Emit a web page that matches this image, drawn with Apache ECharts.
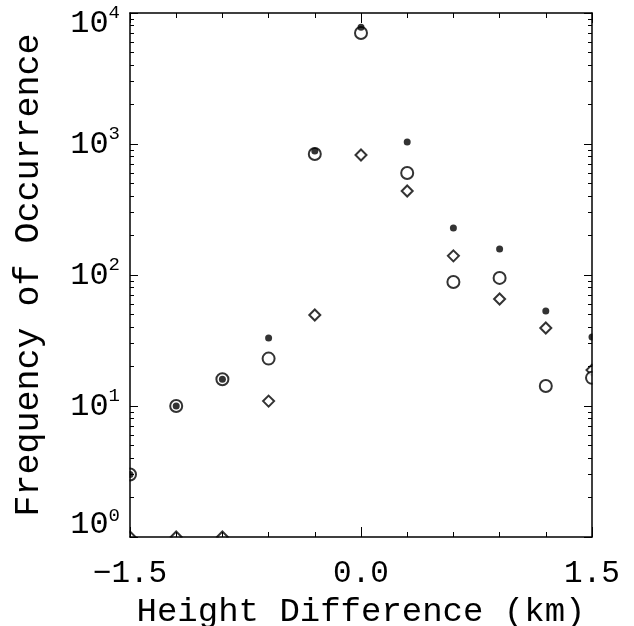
<!DOCTYPE html>
<html>
<head>
<meta charset="utf-8">
<script src="https://cdn.jsdelivr.net/npm/echarts@6/dist/echarts.min.js"></script>
<style>
  html, body { margin: 0; padding: 0; background: #fff; }
  #chart { width: 634px; height: 626px; }
</style>
</head>
<body>
<div id="chart"></div>
<script>
// height difference bins (km)
var heightDiff = [-1.5, -1.2, -0.9, -0.6, -0.3, 0.0, 0.3, 0.6, 0.9, 1.2, 1.5]
// filled dots
var filledDots = [3, 10, 16, 33, 885, 7800, 1035, 228, 158, 53, 33.6]
// open circles
var openCircles = [3, 10, 16, 23, 839, 7030, 601, 88.5, 95, 14.2, 16.4]
// open diamonds
var openDiamonds = [1, 1, 1, 10.9, 49.5, 824, 438, 140, 65.6, 39.4, 18.8]

var xTickLabels = ['\u22121.5', '0.0', '1.5']

function pairs (ys) {
  return heightDiff.map(function (x, i) { return [x, ys[i]] })
}

// minor log ticks (2..9 within every decade), in log10 units for the overlay axis
var minorLogTicks = []
for (var k = 0; k < 4; k++) {
  for (var m = 2; m < 10; m++) minorLogTicks.push(k + Math.log10(m))
}

var font = 'Liberation Mono'
var G = { left: 130, right: 42, top: 13, bottom: 89, outerBoundsMode: 'none', containLabel: false }

var myChart = echarts.init(document.getElementById('chart'))

var xCommon = {
  type: 'value',
  min: -1.5,
  max: 1.5,
  interval: 1.5,
  z: 10,
  axisLine: { show: true, onZero: false, lineStyle: { color: '#000', width: 1.5 } },
  axisTick: { show: true, inside: true, length: 10, lineStyle: { color: '#000', width: 1 } },
  minorTick: { show: true, splitNumber: 5, length: 5, lineStyle: { color: '#000', width: 1 } },
  splitLine: { show: false },
  minorSplitLine: { show: false }
}

var yLogCommon = {
  type: 'log',
  logBase: 10,
  min: 1,
  max: 10000,
  z: 10,
  axisLine: { show: true, onZero: false, lineStyle: { color: '#000', width: 1.5 } },
  axisTick: { show: true, inside: true, length: 8, lineStyle: { color: '#000', width: 1 } },
  splitLine: { show: false }
}

var yMinorCommon = {
  type: 'value',
  min: 0,
  max: 4,
  z: 10,
  axisLine: { show: false, onZero: false },
  axisLabel: { show: false },
  axisTick: { show: true, inside: true, length: 4, customValues: minorLogTicks, lineStyle: { color: '#000', width: 1 } },
  splitLine: { show: false }
}

var option = {
  backgroundColor: '#fff',
  animation: false,
  grid: G,
  graphic: [
    // masks so marks on the frame are clipped to the plot area
    { type: 'rect', z: 5, shape: { x: 0, y: 0, width: G.left - 0.5, height: 626 }, style: { fill: '#fff' } },
    { type: 'rect', z: 5, shape: { x: 634 - G.right + 0.5, y: 0, width: G.right, height: 626 }, style: { fill: '#fff' } },
    { type: 'rect', z: 5, shape: { x: 0, y: 626 - G.bottom + 0.5, width: 634, height: G.bottom }, style: { fill: '#fff' } },
    { type: 'rect', z: 5, shape: { x: 0, y: 0, width: 634, height: G.top - 0.5 }, style: { fill: '#fff' } }
  ],
  xAxis: [
    Object.assign({}, xCommon, {
      position: 'bottom',
      name: 'Height Difference (km)',
      nameLocation: 'middle',
      nameGap: 58,
      nameTextStyle: { fontFamily: font, fontSize: 34, color: '#000' },
      axisLabel: {
        margin: 21,
        fontFamily: font,
        fontSize: 31,
        color: '#000',
        formatter: function (v) {
          var i = [-1.5, 0, 1.5].indexOf(Math.round(v * 10) / 10)
          return i >= 0 ? xTickLabels[i] : ''
        }
      }
    }),
    Object.assign({}, xCommon, { position: 'top', axisLabel: { show: false } })
  ],
  yAxis: [
    Object.assign({}, yLogCommon, {
      position: 'left',
      name: 'Frequency of Occurrence',
      nameLocation: 'middle',
      nameGap: 84,
      nameTextStyle: { fontFamily: font, fontSize: 35, color: '#000' },
      axisLabel: {
        margin: 10,
        fontFamily: font,
        color: '#000',
        formatter: function (v) {
          var e = Math.round(Math.log10(v))
          if (e === 4) return '{bt|10}{st|' + e + '}'
          if (e === 0) return '{bb|10}{sb|' + e + '}'
          return '{b|10}{s|' + e + '}'
        },
        rich: {
          b: { fontFamily: font, fontSize: 32, lineHeight: 30, verticalAlign: 'bottom', padding: [0, 0, -2, 0], color: '#000' },
          s: { fontFamily: font, fontSize: 19, lineHeight: 19, verticalAlign: 'bottom', padding: [0, 0, 16, 0], color: '#000' },
          bt: { fontFamily: font, fontSize: 32, lineHeight: 30, verticalAlign: 'top', padding: [10, 0, 0, 0], color: '#000' },
          st: { fontFamily: font, fontSize: 19, lineHeight: 19, verticalAlign: 'top', padding: [5, 0, 0, 0], color: '#000' },
          bb: { fontFamily: font, fontSize: 32, lineHeight: 30, verticalAlign: 'bottom', padding: [0, 0, 11, 0], color: '#000' },
          sb: { fontFamily: font, fontSize: 19, lineHeight: 19, verticalAlign: 'bottom', padding: [0, 0, 27, 0], color: '#000' }
        }
      }
    }),
    Object.assign({}, yLogCommon, { position: 'right', axisLabel: { show: false } }),
    Object.assign({}, yMinorCommon, { position: 'left' }),
    Object.assign({}, yMinorCommon, { position: 'right' })
  ],
  series: [
    {
      type: 'scatter',
      name: 'diamonds',
      clip: false,
      symbol: 'emptyDiamond',
      symbolSize: [11, 11],
      itemStyle: { color: '#000', borderWidth: 1.2 },
      data: pairs(openDiamonds)
    },
    {
      type: 'scatter',
      name: 'circles',
      clip: false,
      symbol: 'emptyCircle',
      symbolSize: 12,
      itemStyle: { color: '#000', borderWidth: 1.2 },
      data: pairs(openCircles)
    },
    {
      type: 'scatter',
      name: 'dots',
      clip: false,
      symbol: 'circle',
      symbolSize: 7,
      itemStyle: { color: '#000' },
      data: pairs(filledDots)
    }
  ]
}

myChart.setOption(option)
</script>
</body>
</html>
